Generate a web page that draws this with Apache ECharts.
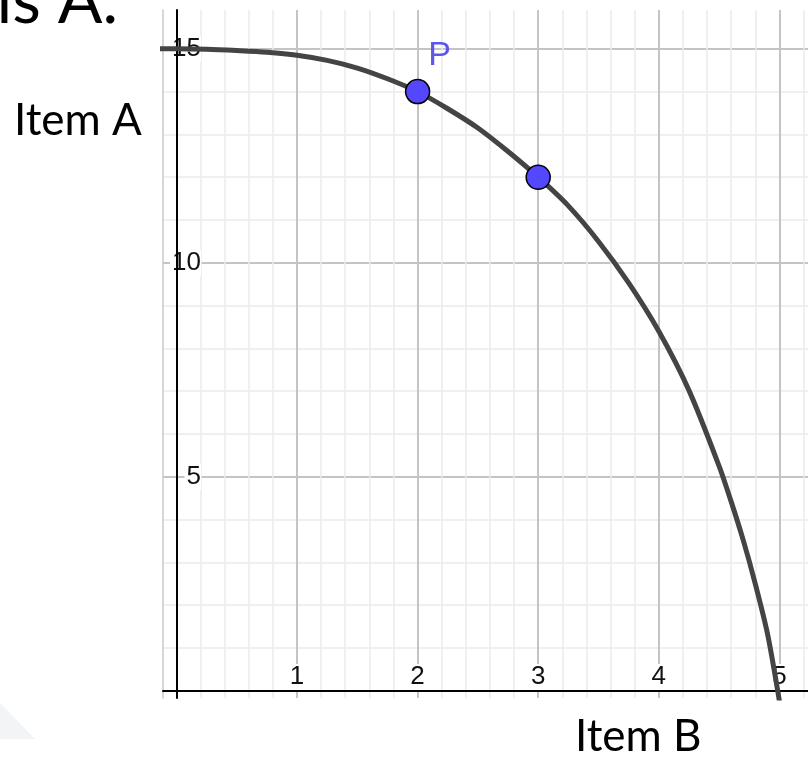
<!DOCTYPE html>
<html><head><meta charset="utf-8">
<script src="https://cdn.jsdelivr.net/npm/echarts@6/dist/echarts.min.js"></script>
<style>html,body{margin:0;padding:0;background:#fff}#c{width:808px;height:758px}</style>
</head><body><div id="c"></div>
<script>
// ---- data ----
const curveX = [-0.2, 0, 0.25, 0.5, 0.75, 1, 1.25, 1.5, 1.75, 2, 2.25, 2.5, 2.75, 3, 3.25, 3.5, 3.75, 4, 4.25, 4.5, 4.6, 4.7, 4.8, 4.9, 4.986, 5.03];
const curveY = [15, 15, 14.99, 14.96, 14.92, 14.85, 14.73, 14.55, 14.3, 14, 13.6, 13.15, 12.6, 12, 11.33, 10.5, 9.53, 8.4, 7.02, 5.25, 4.42, 3.52, 2.5, 1.35, 0, -0.79];
const pointX = [2, 3];
const pointY = [14, 12];
const pointLabels = ['P', ''];
const xTickLabels = ['1', '2', '3', '4', '5'];
const yTickLabels = ['5', '10', '15'];
const xAxisTitle = 'Item B';
const yAxisTitle = 'Item A';
const headingText = 'is A.';

const chart = echarts.init(document.getElementById('c'), null, {renderer: 'canvas'});
const labelFont = 'Liberation Sans, Arial, sans-serif';
const textFont = 'Lato, "Open Sans", sans-serif';
const majorColor = '#c4c4c4';
const minorColor = '#ececec';

const option = {
  backgroundColor: '#ffffff',
  animation: false,
  grid: [
    {left: 163, top: 10, width: 645, height: 688, containLabel: false, outerBoundsMode: 'none'},
    {left: 176.4, top: 10, width: 723.6, height: 688, containLabel: false, outerBoundsMode: 'none'},
    {left: 163, top: 48.8, width: 645, height: 642, containLabel: false, outerBoundsMode: 'none'}
  ],
  xAxis: [
    {gridIndex: 0, type: 'value', min: -0.1111, max: 5.2371, z: 3,
     axisLine: {show: true, onZero: true, lineStyle: {color: '#000', width: 2}},
     axisTick: {show: false}, axisLabel: {show: false}, splitLine: {show: false}},
    {gridIndex: 1, type: 'value', min: 0, max: 6, interval: 1, z: 0,
     axisLine: {show: false}, axisTick: {show: false},
     minorTick: {show: false, splitNumber: 5},
     splitLine: {show: true, lineStyle: {color: majorColor, width: 2}},
     minorSplitLine: {show: true, lineStyle: {color: minorColor, width: 1.5}},
     axisLabel: {show: true, inside: true, margin: 8, showMinLabel: false,
       fontFamily: labelFont, fontSize: 26, color: '#111',
       backgroundColor: '#fff', padding: [0, 2, 0, 2],
       formatter: v => xTickLabels[Math.round(v) - 1] || ''}},
    {gridIndex: 2, type: 'value', min: 0, max: 1, show: false}
  ],
  yAxis: [
    {gridIndex: 0, type: 'value', min: -0.168, max: 15.907, z: 3,
     axisLine: {show: true, onZero: true, lineStyle: {color: '#000', width: 2}},
     axisTick: {show: false}, axisLabel: {show: false}, splitLine: {show: false}},
    {gridIndex: 0, type: 'value', min: -0.168, max: 15.907, position: 'left', z: 0,
     axisLine: {show: true, onZero: false, lineStyle: {color: '#c8c8c8', width: 1.5}},
     axisTick: {show: false}, axisLabel: {show: false}, splitLine: {show: false}},
    {gridIndex: 1, type: 'value', min: 0, max: 1, show: false},
    {gridIndex: 2, type: 'value', min: 0, max: 15, interval: 5, z: 0,
     axisLine: {show: false}, axisTick: {show: false},
     minorTick: {show: false, splitNumber: 5},
     splitLine: {show: true, lineStyle: {color: majorColor, width: 2}},
     minorSplitLine: {show: true, lineStyle: {color: minorColor, width: 1.5}},
     axisLabel: {show: true, inside: true, margin: 38, align: 'right', showMinLabel: false,
       fontFamily: labelFont, fontSize: 26, color: '#111',
       backgroundColor: '#fff', padding: [0, 0, 0, 2],
       formatter: v => yTickLabels[Math.round(v / 5) - 1] || ''}}
  ],
  series: [
    {type: 'line', xAxisIndex: 0, yAxisIndex: 0, z: 4,
     data: curveX.map((x, i) => [x, curveY[i]]),
     smooth: 0.3, showSymbol: false, symbol: 'none', clip: true,
     lineStyle: {color: '#444444', width: 5}},
    {type: 'scatter', xAxisIndex: 0, yAxisIndex: 0, z: 5,
     data: pointX.map((x, i) => ({value: [x, pointY[i]], name: pointLabels[i]})),
     symbolSize: 24,
     itemStyle: {color: '#5448ff', borderColor: '#000', borderWidth: 1.5, opacity: 1},
     label: {show: true, position: 'inside', offset: [22, -36],
       formatter: p => p.name, fontFamily: labelFont, fontSize: 34, color: '#5c55f0',
       padding: [0, 3, 0, 3]}}
  ],
  graphic: [
    {type: 'polygon', z: -1, shape: {points: [[0, 703], [35, 739], [0, 739]]},
     style: {fill: '#f3f4f6'}},
    {type: 'text', x: 14, y: 121,
     style: {text: yAxisTitle, fill: '#000', fontFamily: textFont, fontSize: 44,
             align: 'left', verticalAlign: 'middle', textAlign: 'left', textVerticalAlign: 'middle'}},
    {type: 'text', x: 575, y: 737,
     style: {text: xAxisTitle, fill: '#000', fontFamily: textFont, fontSize: 44,
             align: 'left', verticalAlign: 'middle', textAlign: 'left', textVerticalAlign: 'middle'}},
    {type: 'text', x: 118, y: 2,
     style: {text: headingText, fill: '#000', fontFamily: textFont, fontSize: 66,
             align: 'right', verticalAlign: 'middle', textAlign: 'right', textVerticalAlign: 'middle'}}
  ]
};
chart.setOption(option);
</script></body></html>
